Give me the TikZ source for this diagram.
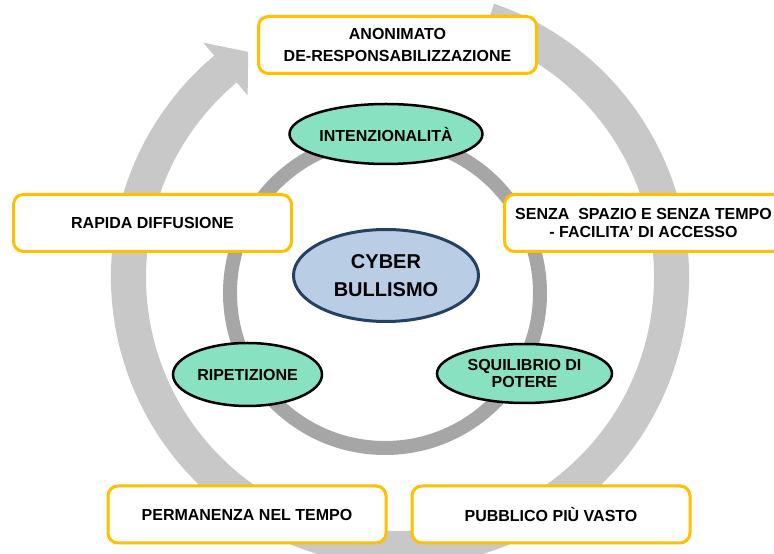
\documentclass[tikz,border=0pt]{standalone}
\usepackage{fontspec}
\setmainfont{Liberation Sans}
\usetikzlibrary{shapes.geometric,calc}
\definecolor{boxyellow}{RGB}{255,192,0}
\definecolor{traitgreen}{RGB}{136,226,194}
\definecolor{corefill}{RGB}{185,205,229}
\definecolor{coreline}{RGB}{36,64,98}
\definecolor{outerring}{RGB}{200,200,200}
\definecolor{innerring}{RGB}{166,166,166}
\tikzset{
  factorbox/.style={draw=boxyellow, line width=3pt, rounded corners=10pt, fill=white,
    minimum width=278pt, minimum height=57pt, inner sep=0pt, align=center,
    font=\bfseries\fontsize{16}{17.5}\selectfont},
  traitellipse/.style={ellipse, draw=black, line width=2.5pt, fill=traitgreen, inner sep=0pt,
    align=center, font=\bfseries\fontsize{16}{17.5}\selectfont},
  coreellipse/.style={ellipse, draw=coreline, line width=3pt, fill=corefill, inner sep=0pt,
    align=center, font=\bfseries\fontsize{20}{28}\selectfont}
}
\newcommand{\cbfactor}[3] {\node at (#1) (#2) [factorbox] {#3};}
\newcommand{\cbtrait}[5] {\node at (#1) (#2) [traitellipse, minimum width=#3, minimum height=#4] {#5};}

\begin{document}
\begin{tikzpicture}[x=1pt,y=1pt]
\clip (0,0) rectangle (774,554);
\coordinate (hub) at (400,277);
\coordinate (mid) at (385,261);

% big circular arrow
\fill [outerring] ($(hub)+(71:289)$) arc [start angle=71, end angle=-230, radius=289]
  -- ($(hub)+(130:306)$) -- ($(hub)+(124:271.5)$) -- ($(hub)+(130:237)$)
  -- ($(hub)+(130:254)$) arc [start angle=130, end angle=431, radius=254] -- cycle;
\draw [innerring, line width=14pt] (mid) circle [radius=155];

\cbfactor {397.5,509} {anon} {ANONIMATO\\[4pt]DE-RESPONSABILIZZAZIONE}
\cbfactor {152.5,331} {rapid} {RAPIDA DIFFUSIONE}
\cbfactor {643.5,331} {senza} {SENZA\ \ SPAZIO E SENZA TEMPO\\- FACILITA’ DI ACCESSO}
\cbfactor {247,39.5} {perm} {PERMANENZA NEL TEMPO}
\cbfactor {551,39.5} {pubb} {PUBBLICO PIÙ VASTO}

\node at (386,278.5) (cyber) [coreellipse, minimum width=185pt, minimum height=92pt] {CYBER\\BULLISMO};
\cbtrait {386,420} {intenz} {193pt} {60pt} {INTENZIONALITÀ}
\cbtrait {524.5,180.5} {squil} {175pt} {59pt} {SQUILIBRIO DI\\POTERE}
\cbtrait {247.5,179.5} {ripet} {149pt} {63pt} {RIPETIZIONE}
\end{tikzpicture}
\end{document}
